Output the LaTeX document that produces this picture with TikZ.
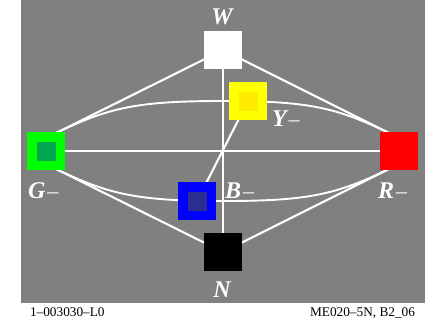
\documentclass[tikz,border=0pt]{standalone}
\usepackage{fontspec}
\setmainfont{Liberation Serif}
\usetikzlibrary{backgrounds}
\definecolor{bggray}{gray}{0.5}
\definecolor{gin}{RGB}{0,165,80}
\definecolor{yin}{RGB}{255,235,0}
\definecolor{bin}{RGB}{45,45,145}
\definecolor{puregreen}{RGB}{0,255,0}
\definecolor{pureyellow}{RGB}{255,255,0}
\definecolor{purered}{RGB}{255,0,0}
\definecolor{pureblue}{RGB}{0,0,255}
\newcommand{\minussub}{\kern2pt{\fontsize{22}{22}\selectfont\mdseries\upshape –}}
\tikzset{
  x=1pt,y=1pt,
  patch/.style={draw=none,minimum size=38pt,inner sep=0pt,outer sep=0pt,rectangle},
  innerpatch/.style={draw=none,minimum size=19pt,inner sep=0pt,outer sep=0pt,rectangle},
  conn/.style={draw=white,line width=2.1pt},
  curve/.style={draw=white,line width=1.9pt},
  lab/.style={text=white,inner sep=0pt,outer sep=0pt,font=\fontsize{24}{24}\selectfont\bfseries\itshape},
  foot/.style={text=black,inner sep=0pt,outer sep=0pt,font=\fontsize{13.3}{13.3}\selectfont},
}
\begin{document}
\begin{tikzpicture}
\useasboundingbox (0,0) rectangle (435,325);
\node[patch,fill=white] (W) at (223,275) {};
\node[patch,fill=black] (N) at (223,73) {};
\node[patch,fill=puregreen] (G) at (46,174) {};
\node[patch,fill=purered] (R) at (399,174) {};
\node[patch,fill=pureyellow] (Y) at (248,224) {};
\node[patch,fill=pureblue] (B) at (197,124) {};
\node[innerpatch,fill=gin] (Gi) at (G.center) {};
\node[innerpatch,fill=yin] (Yi) at (Y.center) {};
\node[innerpatch,fill=bin] (Bi) at (B.center) {};
\coordinate (Gt) at ([yshift=13pt]G.center);
\coordinate (Gb) at ([yshift=-13pt]G.center);
\coordinate (Rt) at ([yshift=13pt]R.center);
\coordinate (Rb) at ([yshift=-13pt]R.center);
\coordinate (Ct) at (223,224);
\coordinate (Cb) at (223,124);
\begin{pgfonlayer}{background}
\fill[white] (0,0) rectangle (435,325);
\fill[bggray] (21,22) rectangle (425,325);
\draw[conn] (W.center) -- (Gt);
\draw[conn] (W.center) -- (Rt);
\draw[conn] (N.center) -- (Gb);
\draw[conn] (N.center) -- (Rb);
\draw[conn] (W.center) -- (N.center);
\draw[conn] (G.center) -- (R.center);
\draw[conn] (Y.center) -- (B.center);
\draw[curve] (Gt) .. controls ([shift={(60pt,30pt)}]Gt) and ([xshift=-90pt]Ct) .. (Ct)
  .. controls ([xshift=90pt]Ct) and ([shift={(-60pt,30pt)}]Rt) .. (Rt);
\draw[curve] (Gb) .. controls ([shift={(60pt,-30pt)}]Gb) and ([xshift=-90pt]Cb) .. (Cb)
  .. controls ([xshift=90pt]Cb) and ([shift={(-60pt,-30pt)}]Rb) .. (Rb);
\end{pgfonlayer}
\node[lab,anchor=base] (lW) at (222,301) {W};
\node[lab,anchor=base] (lN) at (222,28) {N};
\node[lab,anchor=base west] (lG) at (28,127) {G\minussub};
\node[lab,anchor=base west] (lY) at (272,199) {Y\minussub};
\node[lab,anchor=base west] (lB) at (225,127) {B\minussub};
\node[lab,anchor=base west] (lR) at (378,127) {R\minussub};
\node[foot,anchor=base west] (f1) at (30,9) {1–003030–L0};
\node[foot,anchor=base east] (f2) at (415,9) {ME020–5N, B2\_06};
\end{tikzpicture}
\end{document}
